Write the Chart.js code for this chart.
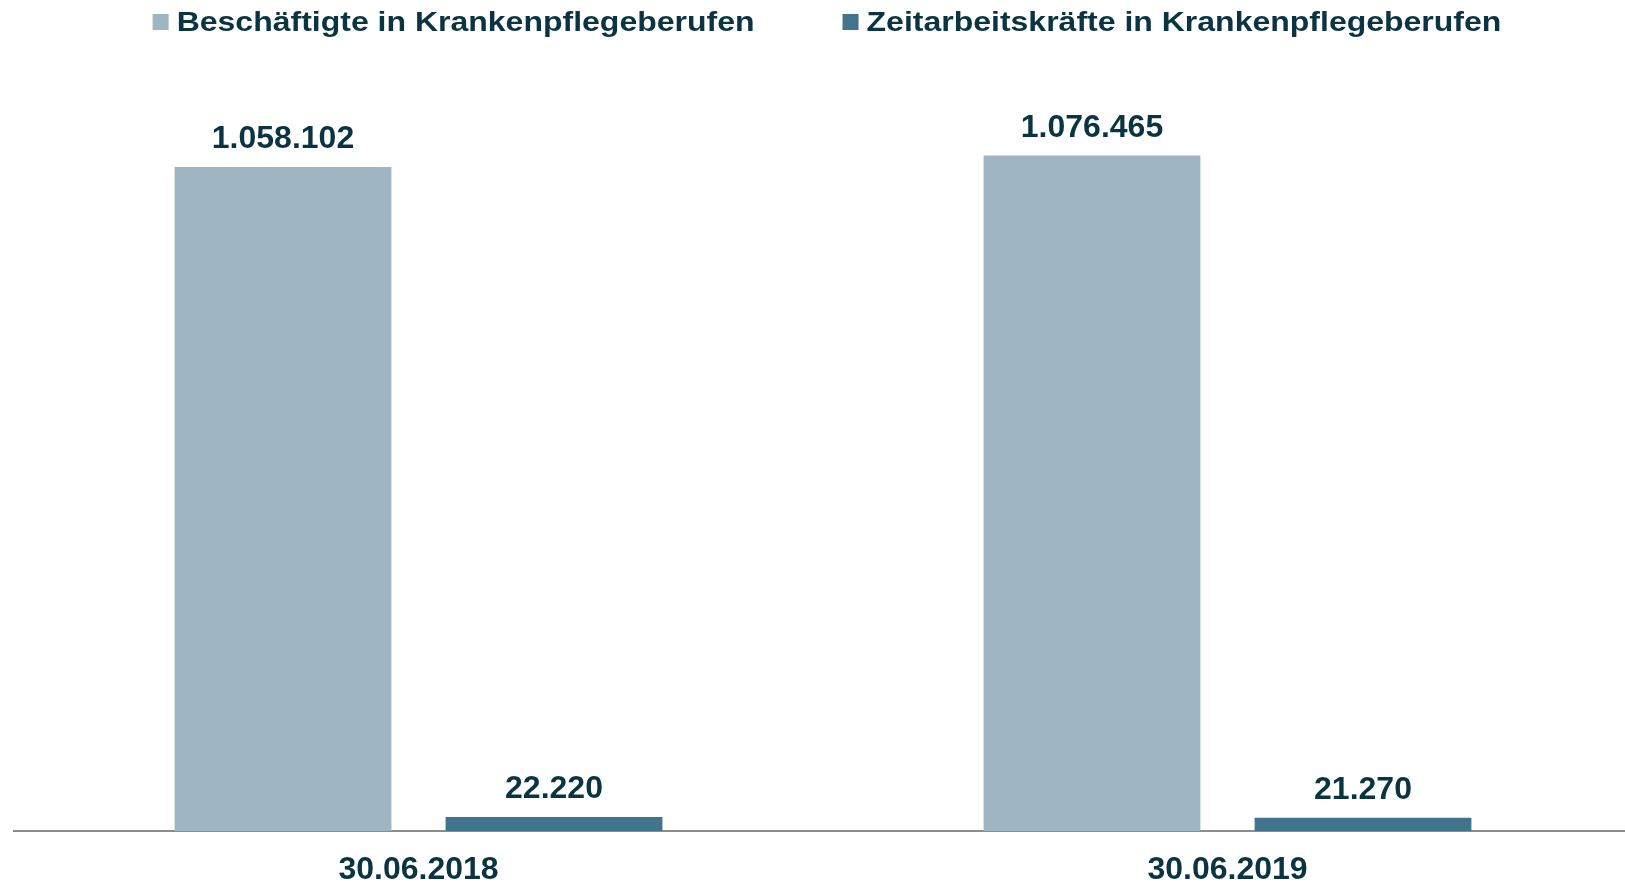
<!DOCTYPE html>
<html>
<head>
<meta charset="utf-8">
<script src="https://cdn.jsdelivr.net/npm/chart.js@4.4.1/dist/chart.umd.min.js"></script>
<style>
  html, body { margin: 0; padding: 0; background: #fff; overflow: hidden; }
  canvas { display: block; }
</style>
</head>
<body>
<!-- etwas breiter als das Fenster: die Achse läuft im Original bis über den Rand -->
<canvas id="chart" width="1632" height="883"></canvas>
<script>
var categories = ['30.06.2018', '30.06.2019'];
var seriesNames = ['Beschäftigte in Krankenpflegeberufen', 'Zeitarbeitskräfte in Krankenpflegeberufen'];
var beschaeftigte = [1058102, 1076465];
var zeitarbeit = [22220, 21270];

var textColor = '#0a3441';
var fontFamily = '"Liberation Sans", Arial, Helvetica, sans-serif';

// Zahlen mit Tausenderpunkt
function fmt(v) {
    return String(v).replace(/\B(?=(\d{3})+(?!\d))/g, '.');
}

// Werte über den Balken
var valueLabels = {
    id: 'valueLabels',
    afterDatasetsDraw: function (chart) {
        var ctx = chart.ctx;
        ctx.save();
        ctx.font = 'bold 32px ' + fontFamily;
        ctx.fillStyle = textColor;
        ctx.textAlign = 'center';
        ctx.textBaseline = 'alphabetic';
        chart.data.datasets.forEach(function (ds, i) {
            chart.getDatasetMeta(i).data.forEach(function (bar, j) {
                ctx.fillText(fmt(ds.data[j]), bar.x, bar.y - 19);
            });
        });
        ctx.restore();
    }
};

// Legende oben, mit großem Abstand zwischen den Einträgen
var topLegend = {
    id: 'topLegend',
    afterDraw: function (chart) {
        var ctx = chart.ctx;
        var box = 16, gapText = 8, gapItem = 88;
        ctx.save();
        ctx.font = 'bold 32px ' + fontFamily;
        var widths = chart.data.datasets.map(function (ds) {
            return box + gapText + ctx.measureText(ds.label).width;
        });
        var total = widths.reduce(function (a, b) { return a + b; }, 0) + gapItem * (widths.length - 1);
        var x = (chart.chartArea.left + chart.chartArea.right) / 2 - total / 2 + 4;
        chart.data.datasets.forEach(function (ds, i) {
            ctx.fillStyle = ds.backgroundColor;
            ctx.fillRect(x, 14, box, box);
            ctx.fillStyle = textColor;
            ctx.textBaseline = 'alphabetic';
            ctx.textAlign = 'left';
            // Schrift etwas gestaucht wie im Original
            ctx.save();
            ctx.translate(x + box + gapText, 31);
            ctx.scale(1, 0.85);
            ctx.fillText(ds.label, 0, 0);
            ctx.restore();
            x += widths[i] + gapItem;
        });
        ctx.restore();
    }
};

new Chart(document.getElementById('chart'), {
    type: 'bar',
    data: {
        labels: categories,
        datasets: [
            { label: seriesNames[0], data: beschaeftigte, backgroundColor: '#9fb5c1' },
            { label: seriesNames[1], data: zeitarbeit, backgroundColor: '#42758b' }
        ]
    },
    options: {
        responsive: false,
        animation: false,
        datasets: {
            bar: { categoryPercentage: 0.67, barPercentage: 0.8 }
        },
        layout: { padding: { top: 78, left: 14, right: 0, bottom: -26 } },
        plugins: {
            legend: { display: false },
            tooltip: { enabled: false }
        },
        scales: {
            x: {
                grid: { display: false, drawTicks: false },
                border: { display: true, color: '#8c8c8c', width: 2 },
                ticks: {
                    padding: 23,
                    color: textColor,
                    font: { family: fontFamily, size: 32, weight: 'bold', lineHeight: 1.0 }
                }
            },
            y: {
                display: false,
                min: 0,
                max: 1200000
            }
        }
    },
    plugins: [valueLabels, topLegend]
});
</script>
</body>
</html>
